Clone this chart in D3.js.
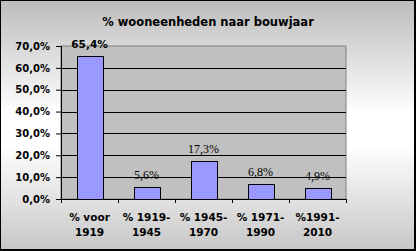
<!DOCTYPE html>
<html>
<head>
<meta charset="utf-8">
<script src="https://cdn.jsdelivr.net/npm/d3@7"></script>
<style>
  body { margin: 0; background: #fff; }
  svg { display: block; }
</style>
</head>
<body>
<svg class="chart"></svg>
<script>
// Data
var categories = [['% voor', '1919'], ['% 1919-', '1945'], ['% 1945-', '1970'], ['% 1971-', '1990'], ['%1991-', '2010']];
var values = [65.4, 5.6, 17.3, 6.8, 4.9];
var valueLabels = ['65,4%', '5,6%', '17,3%', '6,8%', '4,9%'];
var yTicks = [0, 10, 20, 30, 40, 50, 60, 70];

var W = 416, H = 251;
var margin = { top: 46, right: 70, bottom: 52, left: 61 },
    width = W - margin.left - margin.right,
    height = H - margin.top - margin.bottom;

var svg = d3.select('.chart').attr('width', W).attr('height', H);

// background gradient (gray - white - gray)
var grad = svg.append('defs').append('linearGradient')
    .attr('id', 'bg').attr('x1', 0).attr('y1', 0).attr('x2', 0).attr('y2', 1);
grad.append('stop').attr('offset', '0%').attr('stop-color', '#bcbcbc');
grad.append('stop').attr('offset', '45%').attr('stop-color', '#ffffff');
grad.append('stop').attr('offset', '58%').attr('stop-color', '#ffffff');
grad.append('stop').attr('offset', '100%').attr('stop-color', '#c6c6c6');

svg.append('rect').attr('x', 0).attr('y', 0).attr('width', W).attr('height', H).attr('fill', 'url(#bg)');
// frame: thin left/top, thicker right/bottom
svg.append('rect').attr('x', 0.5).attr('y', 0.5).attr('width', W - 2).attr('height', H - 2)
    .attr('fill', 'none').attr('stroke', '#000').attr('stroke-width', 1);
svg.append('line').attr('x1', W - 1).attr('x2', W - 1).attr('y1', 0).attr('y2', H).attr('stroke', '#000').attr('stroke-width', 2);
svg.append('line').attr('x1', 0).attr('x2', W).attr('y1', H - 1).attr('y2', H - 1).attr('stroke', '#000').attr('stroke-width', 2);

// title
svg.append('text')
    .attr('x', 208)
    .attr('y', 26)
    .attr('text-anchor', 'middle')
    .style('font-family', 'DejaVu Sans, Verdana, sans-serif')
    .style('font-weight', 'bold')
    .style('font-size', '11.5px')
    .text('% wooneenheden naar bouwjaar');

var chart = svg.append('g').attr('transform', 'translate(' + margin.left + ',' + margin.top + ')');

var x = d3.scaleBand().domain(d3.range(categories.length)).range([0, width]).paddingInner(0.55).paddingOuter(0.275);
var band = d3.scaleBand().domain(d3.range(categories.length)).range([0, width]);
var y = d3.scaleLinear().domain([0, 70]).range([height, 0]);

// plot area
chart.append('rect').attr('x', 0).attr('y', 0).attr('width', width).attr('height', height)
    .attr('fill', '#c0c0c0').attr('stroke', '#808080').attr('stroke-width', 1);

// gridlines
chart.append('g')
    .selectAll('line')
    .data(yTicks.slice(1, -1))
    .enter()
    .append('line')
    .attr('x1', 0).attr('x2', width)
    .attr('y1', function (d) { return Math.round(y(d)) + 0.5; })
    .attr('y2', function (d) { return Math.round(y(d)) + 0.5; })
    .attr('stroke', '#000');

// bars
chart.selectAll('.bar')
    .data(values)
    .enter()
    .append('rect')
    .attr('class', 'bar')
    .attr('x', function (d, i) { return Math.round(x(i)) + 0.5; })
    .attr('y', function (d) { return Math.round(y(d)) + 0.5; })
    .attr('width', Math.round(x.bandwidth()))
    .attr('height', function (d) { return Math.round(height - y(d)); })
    .attr('fill', '#9999ff')
    .attr('stroke', '#000');

// value labels (first one bold sans, rest serif like the original)
chart.selectAll('.val')
    .data(values)
    .enter()
    .append('text')
    .attr('class', 'val')
    .attr('x', function (d, i) { return x(i) + x.bandwidth() / 2; })
    .attr('y', function (d) { return y(d) - 8; })
    .attr('text-anchor', 'middle')
    .style('font-family', function (d, i) { return i === 0 ? 'DejaVu Sans, Verdana, sans-serif' : 'Liberation Serif, Times New Roman, serif'; })
    .style('font-weight', function (d, i) { return i === 0 ? 'bold' : 'normal'; })
    .style('font-size', function (d, i) { return i === 0 ? '10.5px' : '12px'; })
    .text(function (d, i) { return valueLabels[i]; });

// y axis
var yAxis = d3.axisLeft(y).tickValues(yTicks).tickSize(5).tickPadding(6)
    .tickFormat(function (d) { return d.toFixed(1).replace('.', ',') + '%'; });
var gy = chart.append('g').attr('class', 'y axis').call(yAxis);
gy.select('.domain').attr('stroke', '#000');
gy.selectAll('text')
    .style('font-family', 'DejaVu Sans, Verdana, sans-serif')
    .style('font-weight', 'bold')
    .style('font-size', '10px')
    .attr('fill', '#000');

// x axis
var xAxis = d3.axisBottom(band).tickSize(0).tickFormat('');
var gx = chart.append('g').attr('class', 'x axis').attr('transform', 'translate(0,' + height + ')').call(xAxis);
gx.select('.domain').attr('stroke', '#000');
gx.selectAll('.sep')
    .data(d3.range(categories.length + 1))
    .enter()
    .append('line')
    .attr('x1', function (d) { return Math.round(d * band.step()) + 0.5; })
    .attr('x2', function (d) { return Math.round(d * band.step()) + 0.5; })
    .attr('y1', 0).attr('y2', 4)
    .attr('stroke', '#000');

var catLabels = gx.selectAll('.cat')
    .data(categories)
    .enter()
    .append('text')
    .attr('class', 'cat')
    .attr('text-anchor', 'middle')
    .attr('transform', function (d, i) { return 'translate(' + (band(i) + band.bandwidth() / 2) + ',0)'; })
    .style('font-family', 'DejaVu Sans, Verdana, sans-serif')
    .style('font-weight', 'bold')
    .style('font-size', '10.5px')
    .attr('fill', '#000');
catLabels.append('tspan').attr('x', 0).attr('y', 22).text(function (d) { return d[0]; });
catLabels.append('tspan').attr('x', 0).attr('y', 37).text(function (d) { return d[1]; });
</script>
</body>
</html>
